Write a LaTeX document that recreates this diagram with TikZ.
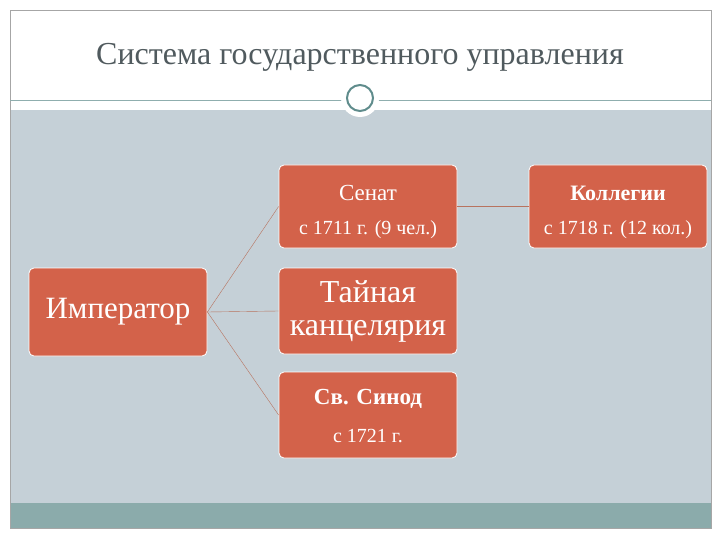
\documentclass[tikz,border=0pt]{standalone}
\usepackage{fontspec}
\setmainfont{Liberation Serif}
\definecolor{boxc}{HTML}{D3624A}
\definecolor{bgc}{HTML}{C5D0D7}
\definecolor{teal}{HTML}{8BABAB}
\definecolor{ttl}{HTML}{505A5E}
\definecolor{ringc}{HTML}{5F8C8C}
\definecolor{linec}{HTML}{B8735F}
\begin{document}
\begin{tikzpicture}[x=1pt,y=-1pt,
 box/.style={fill=boxc,draw=white,line width=0.8pt,rounded corners=5pt,minimum width=178pt,text=white,align=center,inner sep=0pt},
 conn/.style={draw=linec,line width=0.4pt}]
\useasboundingbox (0,0) rectangle (720,540);
\fill[white] (0,0) rectangle (720,540);
\fill[bgc] (10,110) rectangle (711,503);
\fill[teal] (10,503) rectangle (711,528);
\draw[gray!70,line width=0.6pt] (10,10) rectangle (711,528);
\draw[ringc!70,line width=0.7pt] (10,100) -- (711,100);
\node[circle,fill=white,minimum size=38pt] (cw) at (360,98) {};
\node[circle,draw=ringc,line width=2pt,fill=white,minimum size=26pt] (cr) at (360,98) {};
\node[text=ttl,font=\fontsize{32}{36}\selectfont] (title) at (360,57) {Система государственного управления};
\node[box,minimum height=83pt] (senat) at (368,206.5) {};
\node[text=white,font=\fontsize{23}{28}\selectfont] (s1) at (368,193) {Сенат};
\node[text=white,font=\fontsize{20}{24}\selectfont] (s2) at (368,230) {с 1711 г. (9 чел.)};
\node[box,minimum height=83pt] (koll) at (618,206.5) {};
\node[text=white,font=\bfseries\fontsize{22}{24}\selectfont] (k1) at (618,193) {Коллегии};
\node[text=white,font=\fontsize{20}{24}\selectfont] (k2) at (618,230) {с 1718 г. (12 кол.)};
\node[box,minimum height=88pt,font=\fontsize{31}{36}\selectfont] (imp) at (118,312) {Император};
\node[box,minimum height=86pt,font=\fontsize{32}{33}\selectfont] (tain) at (368,311) {Тайная\\канцелярия};
\node[box,minimum height=86pt] (sinod) at (368,415) {};
\node[text=white,font=\bfseries\fontsize{23}{28}\selectfont] (n1) at (368,399) {Св. Синод};
\node[text=white,font=\fontsize{20}{24}\selectfont] (n2) at (368,436) {с 1721 г.};
\draw[conn] (imp.east) -- (senat.west);
\draw[conn] (imp.east) -- (tain.west);
\draw[conn] (imp.east) -- (sinod.west);
\draw[conn] (senat.east) -- (koll.west);
\end{tikzpicture}
\end{document}
